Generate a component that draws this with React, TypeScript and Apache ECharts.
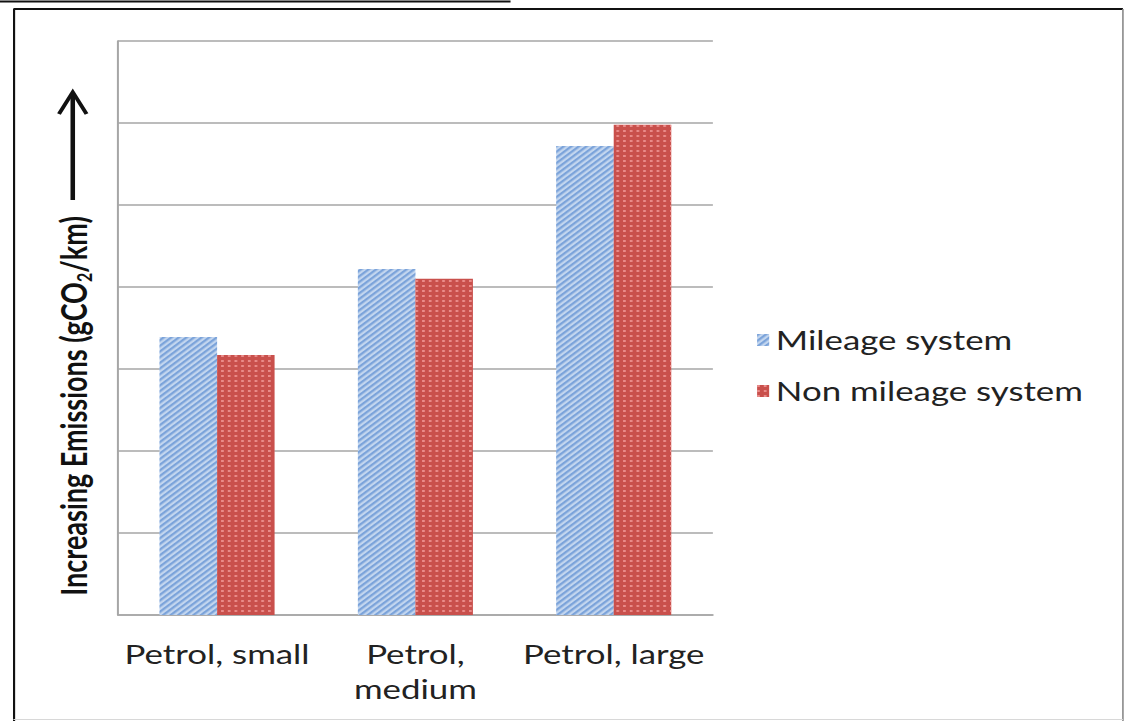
import React, { useEffect, useRef } from "react";
import * as echarts from "echarts";

// Vehicle classes and emission levels (relative units, axis unlabelled)
const categories = ["Petrol, small", "Petrol,\nmedium", "Petrol, large"];
const seriesNames = ["Mileage system", "Non mileage system"];
const mileageValues = [3.39, 4.22, 5.72];
const nonMileageValues = [3.17, 4.1, 5.98];
const yMin = 0;
const yMax = 7;
const yStep = 1;

// The chart is laid out on a narrower canvas and stretched horizontally.
const STRETCH = 1.34;
const OUTER_W = 1126;
const OUTER_H = 721;
const INNER_W = Math.round(OUTER_W / STRETCH);

const FONT = "Lato, 'Noto Sans', sans-serif";

export default function App() {
  const ref = useRef<HTMLDivElement>(null);

  useEffect(() => {
    if (!ref.current) return;
    const chart = echarts.init(ref.current, undefined, { renderer: "svg" });

    const gridColor = "#a6a6a6";

    chart.setOption({
      animation: false,
      backgroundColor: "#ffffff",
      grid: { left: 88, top: 41, width: 444, height: 574, containLabel: false },
      xAxis: {
        type: "category",
        data: categories,
        axisLine: { show: true, lineStyle: { color: gridColor, width: 1.5 } },
        axisTick: { show: false },
        axisLabel: {
          color: "#222",
          fontFamily: FONT,
          fontSize: 26,
          lineHeight: 35,
          margin: 22,
          interval: 0,
        },
      },
      yAxis: {
        type: "value",
        min: yMin,
        max: yMax,
        interval: yStep,
        axisLine: { show: true, lineStyle: { color: gridColor, width: 1.5 } },
        axisTick: { show: false },
        axisLabel: { show: false },
        splitLine: { show: true, lineStyle: { color: gridColor, width: 1.5 } },
      },
      legend: {
        orient: "vertical",
        left: 560,
        top: 320,
        itemWidth: 9,
        itemHeight: 12,
        itemGap: 21,
        icon: "rect",
        textStyle: { color: "#222", fontFamily: FONT, fontSize: 26, lineHeight: 30 },
        data: seriesNames,
      },
      series: [
        {
          name: seriesNames[0],
          type: "bar",
          data: mileageValues,
          barGap: "0%",
          barCategoryGap: "42%",
          itemStyle: {
            color: "#c3d6ef",
            decal: {
              symbol: "rect",
              symbolSize: 1,
              color: "#7ba3da",
              dashArrayX: [1, 0],
              dashArrayY: [2, 2],
              rotation: -Math.PI / 4,
            },
          },
        },
        {
          name: seriesNames[1],
          type: "bar",
          data: nonMileageValues,
          itemStyle: {
            color: "#c9504c",
            decal: {
              symbol: "rect",
              symbolSize: 1,
              color: "rgba(245,160,158,0.75)",
              dashArrayX: [2, 3],
              dashArrayY: [2, 3],
              rotation: 0,
            },
          },
        },
      ],
      graphic: [
        // outer frame
        { type: "line", shape: { x1: 10, y1: 9, x2: 838, y2: 9 }, style: { stroke: "#111", lineWidth: 2 } },
        { type: "line", shape: { x1: 10.5, y1: 9, x2: 10.5, y2: 721 }, style: { stroke: "#111", lineWidth: 1.6 } },
        { type: "line", shape: { x1: 838, y1: 9, x2: 838, y2: 721 }, style: { stroke: "#8a8a8a", lineWidth: 1.2 } },
        { type: "line", shape: { x1: 10, y1: 719.5, x2: 838, y2: 719.5 }, style: { stroke: "#d8d8d8", lineWidth: 1 } },
        // heading rule above the frame
        { type: "line", shape: { x1: 0, y1: 1.5, x2: 381, y2: 1.5 }, style: { stroke: "#111", lineWidth: 2 } },
        // axis title
        {
          type: "text",
          x: 54.5,
          y: 406,
          rotation: Math.PI / 2,
          style: {
            text: "{a|Increasing Emissions (gCO}{s|2}{a|/km)}",
            align: "center",
            verticalAlign: "middle",
            rich: {
              a: { fontFamily: FONT, fontWeight: "bold", fontSize: 27, fill: "#111", lineHeight: 32 },
              s: {
                fontFamily: FONT,
                fontWeight: "bold",
                fontSize: 16,
                fill: "#111",
                lineHeight: 32,
                padding: [15, 0, 0, 0],
              },
            },
          },
        },
        // upward arrow
        { type: "line", shape: { x1: 54.3, y1: 200, x2: 54.3, y2: 94 }, style: { stroke: "#111", lineWidth: 3.4 } },
        {
          type: "polyline",
          shape: { points: [[44, 114], [54.3, 92], [64.6, 114]] },
          style: { stroke: "#111", lineWidth: 3, fill: "none" },
        },
      ],
    });

    return () => chart.dispose();
  }, []);

  return (
    <div
      style={{
        position: "fixed",
        left: 0,
        top: 0,
        width: OUTER_W,
        height: OUTER_H,
        overflow: "hidden",
        background: "#fff",
      }}
    >
      <div
        ref={ref}
        style={{
          width: INNER_W,
          height: OUTER_H,
          transform: `scaleX(${STRETCH})`,
          transformOrigin: "0 0",
        }}
      />
    </div>
  );
}
